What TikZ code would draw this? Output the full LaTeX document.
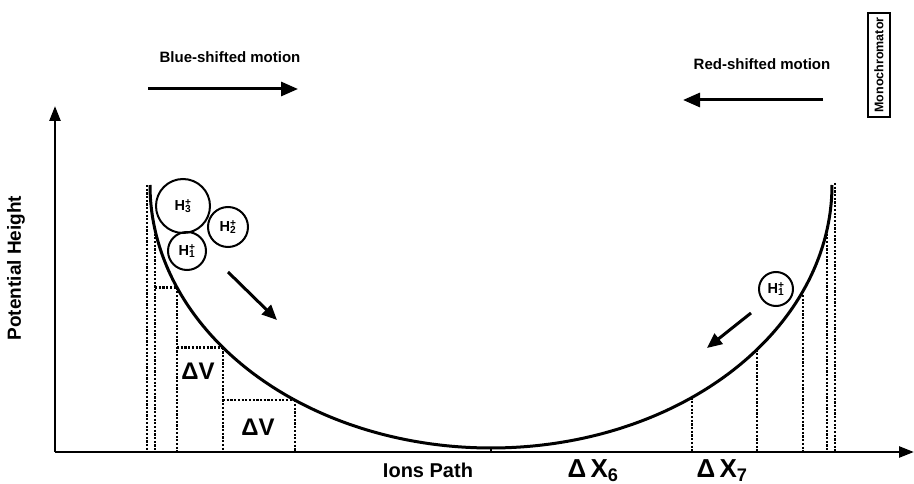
\documentclass[tikz,border=0pt]{standalone}
\usepackage{fontspec}
\setmainfont{Liberation Sans}
\usetikzlibrary{arrows.meta}

\tikzset{
  lbl/.style={font=\bfseries\fontsize{15}{17}\selectfont},
  biglbl/.style={font=\bfseries\fontsize{24}{26}\selectfont},
  ion/.style={draw, circle, line width=2pt, inner sep=0pt, font=\bfseries\fontsize{14.5}{15}\selectfont},
  drop/.style={line width=2.5pt, dash pattern=on 2.2pt off 1.5pt},
  motion/.style={line width=3pt, -{Triangle[length=17pt,width=14pt]}},
  axis/.style={line width=2.6pt, -{Triangle[length=15pt,width=11pt]}},
}

\begin{document}
\begin{tikzpicture}[x=1pt, y=-1pt,
  declare function={pot(\p)=185+263*sqrt(max(0,1-((\p-491)/341)*((\p-491)/341)));}]
  \useasboundingbox (0,0) rectangle (914,484);
  % Axes
  \coordinate (O) at (55,452);
  \coordinate (ytop) at (55,106);
  \coordinate (xend) at (914,452);
  \draw[axis] (O) -- (ytop);
  \draw[axis] (O) -- (xend);
  \node[lbl, font=\bfseries\fontsize{19}{21}\selectfont, rotate=90] (ylabel) at (16,268) {Potential Height};
  \node[lbl, font=\bfseries\fontsize{20}{22}\selectfont] (path) at (428,470) {Ions Path};
  \node[biglbl, font=\bfseries\fontsize{26}{28}\selectfont] (dx6) at (593,471) {Δ\,X\textsubscript{6}};
  \node[biglbl, font=\bfseries\fontsize{26}{28}\selectfont] (dx7) at (722,471) {Δ\,X\textsubscript{7}};
  % Potential curve
  \draw[line width=3pt] plot[domain=180:360, samples=120, smooth] ({491+341*cos(\x)}, {185-263*sin(\x)});
  \draw[line width=1.8pt] (491,447) -- (491,452);
  % Left steps
  \draw[drop] (147,185) -- (147,452);
  \foreach \u in {155,177,223,295}
    \draw[drop] (\u,{pot(\u)}) -- (\u,452);
  \foreach \u/\v in {155/177, 177/223, 223/295}
    \draw[drop] (\u,{pot(\v)}) -- (\v,{pot(\v)});
  \node[biglbl] (dv1) at (198,371) {ΔV};
  \node[biglbl] (dv2) at (258,427) {ΔV};
  % Right steps
  \draw[drop] (835,183) -- (835,452);
  \foreach \u in {692,757,803,827}
    \draw[drop] (\u,{pot(\u)}) -- (\u,452);
  % Ions
  \node[ion, minimum size=54pt] (h3) at (183,206) {H\rlap{\textsuperscript{+}}\textsubscript{3}};
  \node[ion, minimum size=40pt] (h2) at (228,227) {H\rlap{\textsuperscript{+}}\textsubscript{2}};
  \node[ion, minimum size=38pt] (h1) at (187,251) {H\rlap{\textsuperscript{+}}\textsubscript{1}};
  \node[ion, minimum size=34pt] (h1r) at (776,289) {H\rlap{\textsuperscript{+}}\textsubscript{1}};
  \coordinate (fall0) at (228,272);
  \coordinate (fall1) at (277,320);
  \draw[motion, -{Triangle[length=15pt,width=13pt]}] (fall0) -- (fall1);
  \coordinate (rise0) at (751,313);
  \coordinate (rise1) at (707,348);
  \draw[motion, -{Triangle[length=15pt,width=13pt]}] (rise0) -- (rise1);
  % Motion labels
  \node[lbl] (blue) at (230,57) {Blue-shifted motion};
  \coordinate (blue0) at (148,89);
  \coordinate (blue1) at (298,89);
  \draw[motion] (blue0) -- (blue1);
  \node[lbl] (red) at (762,64) {Red-shifted motion};
  \coordinate (red0) at (823,100);
  \coordinate (red1) at (683,100);
  \draw[motion] (red0) -- (red1);
  \node[draw, line width=2.2pt, rotate=90, minimum width=104pt, minimum height=22pt,
        inner sep=1pt, font=\bfseries\fontsize{12.5}{13}\selectfont] (mono) at (879,65) {Monochromator};
\end{tikzpicture}
\end{document}
